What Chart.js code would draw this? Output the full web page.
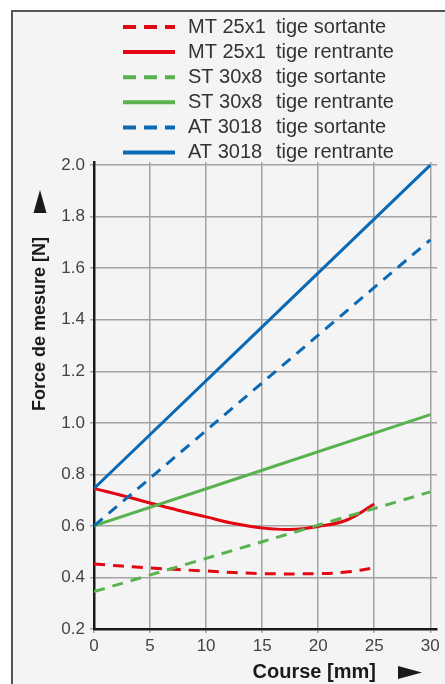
<!DOCTYPE html>
<html>
<head>
<meta charset="utf-8">
<script src="https://cdn.jsdelivr.net/npm/chart.js@4"></script>
<style>
html, body { margin: 0; padding: 0; background: #fff; width: 445px; height: 684px; overflow: hidden; }
#frame { position: absolute; left: 11px; top: 10px; width: 470px; height: 700px; border-left: 2px solid #555; border-top: 2px solid #555; background: #f4f4f4; }
#chart { position: absolute; left: 0; top: 0; }
</style>
</head>
<body>
<div id="frame"></div>
<canvas id="chart" width="445" height="684"></canvas>
<script>
// series names, legend is drawn as two columns
const seriesNames = ['MT 25x1', 'MT 25x1', 'ST 30x8', 'ST 30x8', 'AT 3018', 'AT 3018'];
const seriesStates = ['tige sortante', 'tige rentrante', 'tige sortante', 'tige rentrante', 'tige sortante', 'tige rentrante'];

// values (course in mm, force in N)
const mtOutX = [0, 5, 10, 15, 20, 22.5, 25];
const mtOutY = [0.452, 0.437, 0.425, 0.415, 0.415, 0.421, 0.437];
const mtInX = [0, 2.5, 5, 7.5, 10, 12.5, 15, 17.5, 20, 22.5, 25];
const mtInY = [0.745, 0.718, 0.689, 0.661, 0.635, 0.609, 0.592, 0.586, 0.598, 0.622, 0.685];
const stOutX = [0, 30];
const stOutY = [0.345, 0.732];
const stInX = [0, 30];
const stInY = [0.6, 1.032];
const atOutX = [0, 30];
const atOutY = [0.6, 1.71];
const atInX = [0, 30];
const atInY = [0.745, 2.0];

const xTicks = [0, 5, 10, 15, 20, 25, 30];
const yTicks = [0.2, 0.4, 0.6, 0.8, 1.0, 1.2, 1.4, 1.6, 1.8, 2.0];

const RED = '#e30613';
const GREEN = '#58b34f';
const BLUE = '#0a69b4';
const DASH = [11, 8];
const FONT = '"Liberation Sans", Arial, sans-serif';

const pts = (xs, ys) => xs.map((x, i) => ({ x: x, y: ys[i] }));

function series(i, xs, ys, color, dashed, order) {
  return {
    label: seriesNames[i] + '  ' + seriesStates[i],
    data: pts(xs, ys),
    borderColor: color,
    borderWidth: 3,
    borderDash: dashed ? DASH : [],
    pointRadius: 0,
    tension: 0.4,
    fill: false,
    order: order
  };
}

const legendPlugin = {
  id: 'tableLegend',
  afterDraw(chart) {
    const ctx = chart.ctx;
    ctx.save();
    ctx.font = '20px ' + FONT;
    ctx.textBaseline = 'middle';
    ctx.fillStyle = '#333';
    chart.data.datasets.forEach((ds, i) => {
      const y = 27 + i * 25.1;
      ctx.strokeStyle = ds.borderColor;
      ctx.lineWidth = 4;
      ctx.setLineDash(ds.borderDash.length ? [13, 8] : []);
      ctx.beginPath();
      ctx.moveTo(123, y);
      ctx.lineTo(175, y);
      ctx.stroke();
      ctx.fillText(seriesNames[i], 188, y);
      ctx.fillText(seriesStates[i], 276, y);
    });
    ctx.restore();
  }
};

// the big arrows next to the axis titles
const arrowPlugin = {
  id: 'axisArrows',
  afterDraw(chart) {
    const ctx = chart.ctx;
    ctx.save();
    ctx.fillStyle = '#1a1a1a';
    ctx.beginPath();
    ctx.moveTo(40, 190);
    ctx.lineTo(46.5, 213);
    ctx.lineTo(33.5, 213);
    ctx.closePath();
    ctx.fill();
    ctx.beginPath();
    ctx.moveTo(422, 672.5);
    ctx.lineTo(398, 666);
    ctx.lineTo(398, 679);
    ctx.closePath();
    ctx.fill();
    ctx.restore();
  }
};

const ctx = document.getElementById('chart').getContext('2d');
const chart = new Chart(ctx, {
  type: 'line',
  data: {
    datasets: [
      series(0, mtOutX, mtOutY, RED, true, 3),
      series(1, mtInX, mtInY, RED, false, 3),
      series(2, stOutX, stOutY, GREEN, true, 2),
      series(3, stInX, stInY, GREEN, false, 2),
      series(4, atOutX, atOutY, BLUE, true, 1),
      series(5, atInX, atInY, BLUE, false, 1),
    ],
  },
  options: {
    responsive: false,
    devicePixelRatio: 1,
    animation: false,
    layout: { padding: { left: 25, top: 162, right: 8, bottom: 0 } },
    plugins: { legend: { display: false }, tooltip: { enabled: false } },
    scales: {
      x: {
        type: 'linear',
        min: 0,
        max: 30.6,
        afterFit: s => { s.height = 55; },
        afterBuildTicks: s => { s.ticks = xTicks.map(v => ({ value: v })); },
        ticks: { color: '#444', padding: 3, font: { size: 17, family: FONT } },
        grid: { color: '#a3a3a3', lineWidth: 1.5, tickLength: 4 },
        border: { color: '#1a1a1a', width: 2.5 },
        title: {
          display: true,
          text: 'Course [mm]' + ' '.repeat(11),
          align: 'end',
          color: '#1a1a1a',
          padding: { top: 0, bottom: 0 },
          font: { size: 20, weight: 'bold', family: FONT }
        }
      },
      y: {
        min: 0.2,
        max: 2.012,
        afterFit: s => { s.width = 69; },
        afterBuildTicks: s => { s.ticks = yTicks.map(v => ({ value: v })); },
        ticks: {
          color: '#444',
          padding: 5,
          font: { size: 17, family: FONT },
          callback: v => v.toFixed(1)
        },
        grid: { color: '#a3a3a3', lineWidth: 1.5, tickLength: 4 },
        border: { color: '#1a1a1a', width: 2.5 },
        title: {
          display: true,
          text: 'Force de mesure [N]' + ' '.repeat(15),
          align: 'end',
          color: '#1a1a1a',
          padding: { top: 4, bottom: 4 },
          font: { size: 18, weight: 'bold', family: FONT }
        }
      }
    }
  },
  plugins: [legendPlugin, arrowPlugin]
});
</script>
</body>
</html>
